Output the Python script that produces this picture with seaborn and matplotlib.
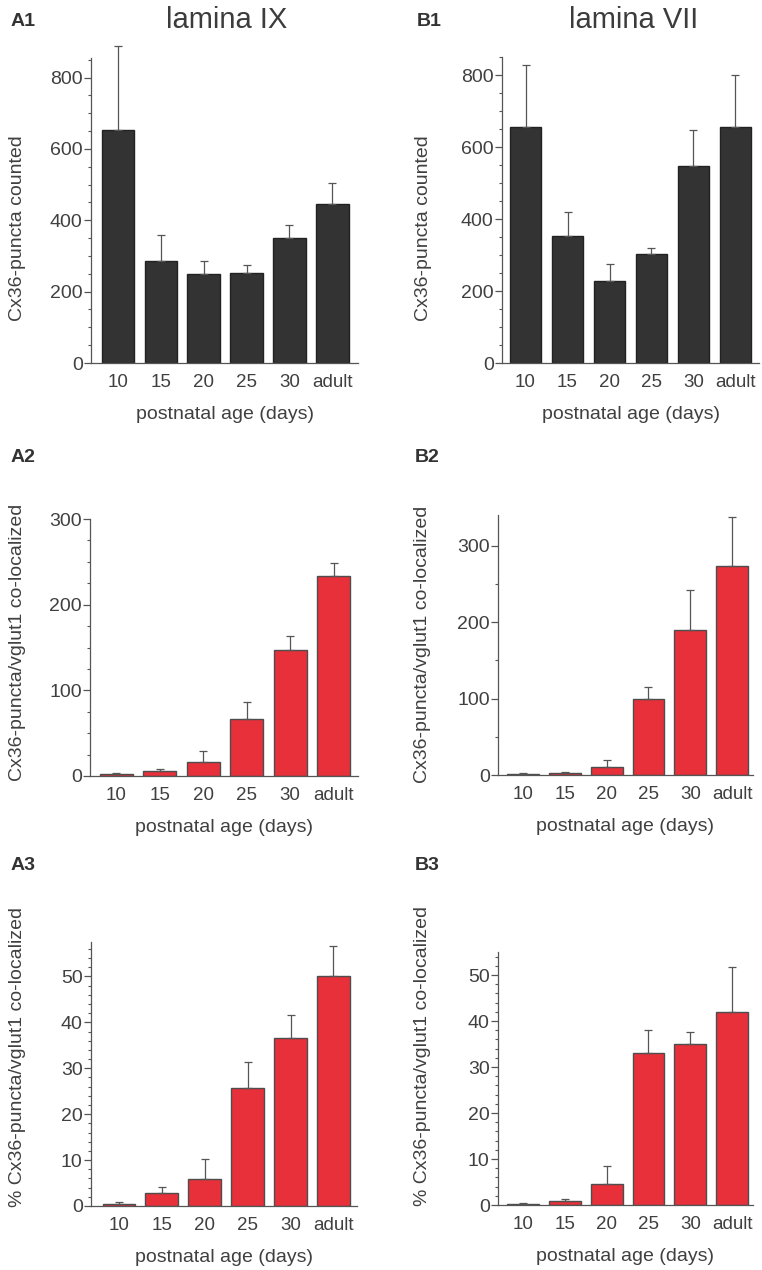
import numpy as np
import pandas as pd
import matplotlib
matplotlib.use("Agg")
import matplotlib.pyplot as plt
from matplotlib.ticker import MultipleLocator
import seaborn as sns

# ---------------------------------------------------------
# Daten
# ---------------------------------------------------------
ages = ["10", "15", "20", "25", "30", "adult"]

# A1 / B1: Cx36-puncta counted
a1_mean = [652, 285, 249, 252, 350, 447]
a1_err = [236, 75, 36, 22, 36, 58]
b1_mean = [656, 353, 228, 303, 547, 655]
b1_err = [172, 66, 46, 16, 100, 145]

# A2 / B2: Cx36-puncta/vglut1 co-localized
a2_mean = [2, 6, 16, 66, 147, 234]
a2_err = [2, 2, 13, 20, 17, 15]
b2_mean = [1.3, 3, 10, 100, 190, 273]
b2_err = [1.7, 1, 9, 15, 52, 64]

# A3 / B3: % co-localized
a3_mean = [0.5, 2.8, 5.8, 25.6, 36.6, 50.0]
a3_err = [0.4, 1.3, 4.5, 5.7, 4.9, 6.7]
b3_mean = [0.3, 0.9, 4.5, 33.1, 34.9, 41.9]
b3_err = [0.2, 0.3, 3.9, 5.0, 2.7, 9.8]

# ---------------------------------------------------------
# Stil
# ---------------------------------------------------------
sns.set_style("ticks")
plt.rcParams["font.family"] = ["Liberation Sans", "DejaVu Sans"]
txt = "#404040"
plt.rcParams["text.color"] = txt
plt.rcParams["axes.labelcolor"] = txt
plt.rcParams["xtick.color"] = txt
plt.rcParams["ytick.color"] = "#555555"
plt.rcParams["ytick.labelcolor"] = txt
plt.rcParams["axes.edgecolor"] = "#555555"

W, H = 762, 1270
fig = plt.figure(figsize=(W / 100, H / 100), dpi=100)

dark = "#333333"
red = "#E8303A"

ylab1 = "Cx36-puncta counted"
ylab2 = "Cx36-puncta/vglut1 co-localized"
ylab3 = "% Cx36-puncta/vglut1 co-localized"

# Pixel-Layout: left, right, top, bottom, xlim, ylim, major, minor, label-x, label-y
panels = [
    dict(name="A1", mean=a1_mean, err=a1_err, color=dark, edge="#222222", ylab=ylab1,
         box=(91, 358, 58, 363), xlim=(-0.63, 5.6), ylim=855, major=200, minor=50,
         lab=(18, 228), tag=(11, 22)),
    dict(name="B1", mean=b1_mean, err=b1_err, color=dark, edge="#222222", ylab=ylab1,
         box=(502, 759, 57, 363), xlim=(-0.56, 5.56), ylim=850, major=200, minor=50,
         lab=(423, 228), tag=(417, 22)),
    dict(name="A2", mean=a2_mean, err=a2_err, color=red, edge="#4d4d4d", ylab=ylab2,
         box=(90, 358, 519, 776), xlim=(-0.61, 5.56), ylim=300, major=100, minor=25,
         lab=(18, 642), tag=(11, 458)),
    dict(name="B2", mean=b2_mean, err=b2_err, color=red, edge="#4d4d4d", ylab=ylab2,
         box=(498, 753, 515, 775), xlim=(-0.6, 5.5), ylim=340, major=100, minor=50,
         lab=(423, 644), tag=(415, 458)),
    dict(name="A3", mean=a3_mean, err=a3_err, color=red, edge="#4d4d4d", ylab=ylab3,
         box=(91, 357, 942, 1206), xlim=(-0.65, 5.55), ylim=57.5, major=10, minor=2,
         lab=(18, 1057), tag=(11, 865)),
    dict(name="B3", mean=b3_mean, err=b3_err, color=red, edge="#4d4d4d", ylab=ylab3,
         box=(498, 753, 952, 1205), xlim=(-0.6, 5.5), ylim=55, major=10, minor=2,
         lab=(423, 1056), tag=(415, 865)),
]

for p in panels:
    l, r, t, b = p["box"]
    ax = fig.add_axes([l / W, 1 - b / H, (r - l) / W, (b - t) / H])
    df = pd.DataFrame({"age": ages, "value": p["mean"]})
    sns.barplot(data=df, x="age", y="value", order=ages, color=p["color"],
                edgecolor=p["edge"], linewidth=1.0, width=0.76, saturation=1,
                errorbar=None, ax=ax)
    eb = ax.errorbar(np.arange(len(ages)), p["mean"],
                     yerr=[np.zeros(len(ages)), p["err"]], fmt="none",
                     ecolor="#555555", elinewidth=0.9, capsize=3, capthick=0.9, zorder=1)
    for art in list(eb.lines[1]) + list(eb.lines[2]):
        art.set_clip_on(False)

    ax.set_xlim(*p["xlim"])
    ax.set_ylim(0, p["ylim"])
    ax.yaxis.set_major_locator(MultipleLocator(p["major"]))
    ax.yaxis.set_minor_locator(MultipleLocator(p["minor"]))
    sns.despine(ax=ax)
    for s in ["left", "bottom"]:
        ax.spines[s].set_linewidth(0.9)

    ax.tick_params(axis="x", length=0, pad=8, labelsize=13.5)
    ax.tick_params(axis="y", which="major", length=5, width=0.9, pad=1, labelsize=14)
    ax.tick_params(axis="y", which="minor", length=2.5, width=0.8)

    ax.set_xlabel("postnatal age (days)", fontsize=14, labelpad=11)
    ax.set_ylabel(p["ylab"], fontsize=14, va="center")
    lx, ly = p["lab"]
    ax.yaxis.set_label_coords((lx - l) / (r - l), (b - ly) / (b - t))

    tx, ty = p["tag"]
    fig.text(tx / W, 1 - ty / H, p["name"], fontsize=14, fontweight="bold",
             ha="left", va="center", color="#333333")

fig.text(227 / W, 1 - 20 / H, "lamina IX", fontsize=21, ha="center", va="center", color="#3c3c3c")
fig.text(634 / W, 1 - 20 / H, "lamina VII", fontsize=21, ha="center", va="center", color="#3c3c3c")

fig.savefig("out.png", dpi=100)
